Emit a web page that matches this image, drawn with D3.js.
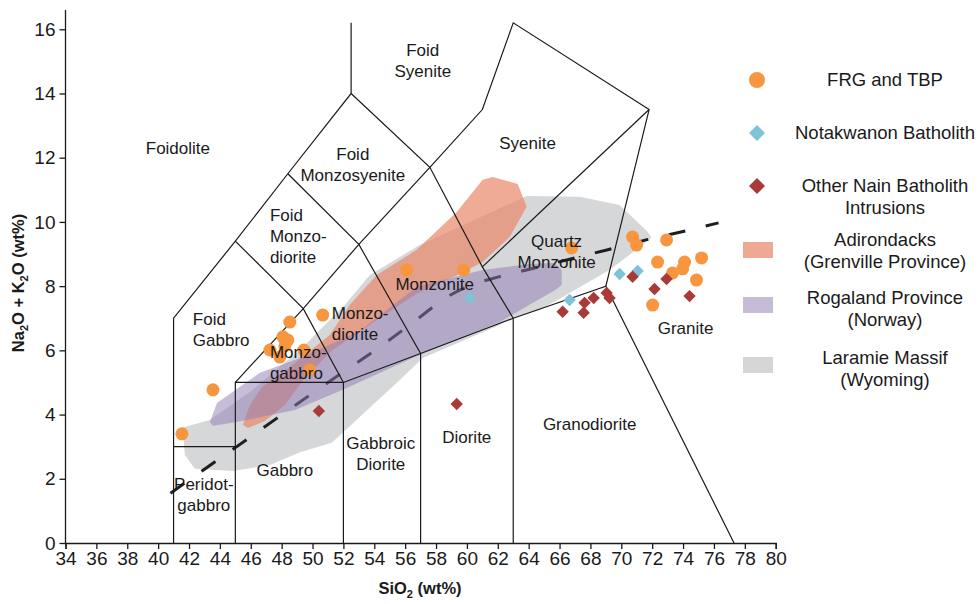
<!DOCTYPE html>
<html>
<head>
<meta charset="utf-8">
<script src="https://cdn.jsdelivr.net/npm/d3@7/dist/d3.min.js"></script>
<style>
  body { margin: 0; background: #fff; }
  svg text { font-family: "Liberation Sans", Arial, Helvetica, sans-serif; fill: #1a1a1a; }
</style>
</head>
<body>
<svg id="chart" width="979" height="604"></svg>
<script>
// ---- axes ----
const sio2Domain = [34, 80];
const alkaliDomain = [0, 16.6];
const xTickValues = d3.range(34, 81, 2);
const yTickValues = d3.range(0, 17, 2);

// ---- TAS classification boundaries (plutonic, Middlemost 1994) ----
const boundaryLines = [
  [[41, 0], [41, 7], [45, 9.4], [48.4, 11.5], [52.5, 14], [52.5, 16.2]],
  [[41, 3], [45, 3]],
  [[45, 0], [45, 5], [52, 5], [57, 5.9], [63, 7], [69, 8], [77.3, 0]],
  [[52, 0], [52, 5]],
  [[57, 0], [57, 5.9]],
  [[63, 0], [63, 7]],
  [[45, 5], [49.4, 7.3], [53, 9.3], [57.6, 11.7], [61, 13.5], [63, 16.2], [71.8, 13.5], [69, 8]],
  [[45, 9.4], [49.4, 7.3], [52, 5]],
  [[48.4, 11.5], [53, 9.3], [57, 5.9]],
  [[52.5, 14], [57.6, 11.7], [61, 8.6], [63, 7]],
  [[61, 8.6], [71.8, 13.5]]
];

// field names: first-line position in data units
const fieldLabels = [
  { lines: ["Foidolite"], at: [41.28, 12.31], anchor: "middle" },
  { lines: ["Foid", "Syenite"], at: [57.14, 15.36], anchor: "middle" },
  { lines: ["Foid", "Monzosyenite"], at: [52.61, 12.12], anchor: "middle" },
  { lines: ["Syenite"], at: [63.93, 12.46], anchor: "middle" },
  { lines: ["Foid", "Monzo-", "diorite"], at: [47.24, 10.22], anchor: "start" },
  { lines: ["Foid", "Gabbro"], at: [42.25, 6.98], anchor: "start" },
  { lines: ["Monzo-", "gabbro"], at: [47.24, 5.95], anchor: "start" },
  { lines: ["Monzo-", "diorite"], at: [51.25, 7.17], anchor: "start" },
  { lines: ["Monzonite"], at: [57.91, 8.07], anchor: "middle" },
  { lines: ["Quartz", "Monzonite"], at: [65.81, 9.41], anchor: "middle" },
  { lines: ["Granite"], at: [74.16, 6.70], anchor: "middle" },
  { lines: ["Granodiorite"], at: [67.95, 3.71], anchor: "middle" },
  { lines: ["Diorite"], at: [59.99, 3.30], anchor: "middle" },
  { lines: ["Gabbroic", "Diorite"], at: [54.42, 3.12], anchor: "middle" },
  { lines: ["Gabbro"], at: [48.21, 2.27], anchor: "middle" },
  { lines: ["Peridot-", "gabbro"], at: [42.96, 1.84], anchor: "middle" }
];

// alkaline / subalkaline divide
const alkalineDivide = [
  [40.8, 1.55], [43.0, 2.30], [45.0, 2.97], [47.0, 3.65], [49.0, 4.33], [51.0, 5.00],
  [53.0, 5.65], [55.0, 6.33], [57.0, 7.05], [58.5, 7.60], [60.0, 7.98], [62.0, 8.28],
  [64.0, 8.52], [67.0, 8.88], [69.0, 9.12], [71.6, 9.44], [74.0, 9.70], [76.3, 9.97]
];

// ---- comparison fields ----
const laramieField = [
  [41.6, 3.60], [43.35, 3.83], [45.94, 4.70], [49.18, 6.01], [52.09, 7.41], [53.71, 8.35],
  [56.94, 9.28], [60.18, 10.0], [63.87, 10.81], [67.3, 10.78], [69.89, 10.53], [71.7, 9.69],
  [71.96, 9.50], [69.24, 8.50], [66.65, 7.79], [64.71, 7.26], [62.96, 7.01], [62.12, 6.79],
  [57.14, 5.76], [55.65, 5.08], [51.25, 3.12], [49.18, 2.83], [47.24, 2.43], [44.84, 2.24],
  [42.38, 2.31], [41.73, 2.74]
];
const rogalandField = [
  [43.35, 3.77], [43.81, 4.36], [46.59, 5.30], [49.37, 5.79], [53.06, 6.60], [56.75, 7.98],
  [61.02, 8.50], [64.06, 8.69], [65.68, 8.72], [66.14, 8.50], [66.14, 8.04], [65.8, 7.90],
  [62.12, 6.88], [56.94, 5.86], [51.96, 4.77], [48.85, 4.14], [45.1, 3.77], [43.55, 3.65]
];
const adirondacksField = [
  [45.49, 3.68], [45.94, 4.30], [46.72, 4.86], [48.72, 5.55], [51.12, 6.48], [52.41, 7.41],
  [54.16, 8.35], [56.75, 9.13], [59.34, 10.31], [61.02, 11.31], [61.67, 11.40], [63.29, 11.18],
  [63.87, 10.47], [62.77, 9.53], [61.02, 8.75], [59.53, 8.38], [56.75, 7.76], [54.55, 7.07],
  [51.31, 6.01], [49.5, 5.14], [48.21, 4.30], [46.91, 3.80], [45.81, 3.58]
];

// ---- samples (SiO2, Na2O+K2O) ----
const frgTbp = [
  [41.54, 3.40], [43.55, 4.77], [48.53, 6.88], [48.08, 6.42], [48.40, 6.32], [48.21, 6.14],
  [47.24, 6.01], [47.88, 5.79], [49.44, 6.01], [49.82, 5.39], [50.66, 7.10], [56.10, 8.50],
  [59.79, 8.50], [66.78, 9.19], [70.73, 9.53], [70.99, 9.28], [72.93, 9.44], [72.35, 8.75],
  [74.10, 8.75], [73.97, 8.54], [75.20, 8.88], [73.32, 8.41], [74.87, 8.19], [72.03, 7.41]
];
const notakwanon = [[60.18, 7.63], [66.65, 7.57], [69.89, 8.38], [71.06, 8.47]];
const otherNain = [
  [50.41, 4.11], [59.34, 4.33], [66.20, 7.20], [67.56, 7.17], [67.62, 7.48], [68.21, 7.63],
  [69.05, 7.79], [69.24, 7.63], [70.73, 8.29], [72.15, 7.91], [72.93, 8.22], [74.42, 7.69]
];

const legendItems = [
  { kind: "circle", lines: ["FRG and TBP"] },
  { kind: "diamondBlue", lines: ["Notakwanon Batholith"] },
  { kind: "diamondRed", lines: ["Other Nain Batholith", "Intrusions"] },
  { kind: "rectOrange", lines: ["Adirondacks", "(Grenville Province)"] },
  { kind: "rectPurple", lines: ["Rogaland Province", "(Norway)"] },
  { kind: "rectGray", lines: ["Laramie Massif", "(Wyoming)"] }
];

// ---- drawing ----
const svg = d3.select("#chart");
const x = d3.scaleLinear().domain(sio2Domain).range([65.5, 775.7]);
const y = d3.scaleLinear().domain(alkaliDomain).range([543, 10]);

const colors = {
  frg: "#f7963f", blue: "#7fc4d6", red: "#a83a37",
  laramie: "#d6d7d8", rogaland: "#8f7cb6", adirondacks: "#e8876a"
};

const closed = d3.line().x(d => x(d[0])).y(d => y(d[1])).curve(d3.curveLinearClosed);
const open = d3.line().x(d => x(d[0])).y(d => y(d[1]));

// Laramie field at the bottom
svg.append("path").attr("d", closed(laramieField)).attr("fill", colors.laramie);

// alkaline divide
svg.append("path")
  .attr("d", d3.line().x(d => x(d[0])).y(d => y(d[1])).curve(d3.curveMonotoneX)(alkalineDivide))
  .attr("fill", "none").attr("stroke", "#1e1e1e").attr("stroke-width", 3)
  .attr("stroke-dasharray", "17,21");

// Adirondacks and Rogaland fields
svg.append("path").attr("d", closed(adirondacksField))
  .attr("fill", colors.adirondacks).attr("fill-opacity", 0.7);
svg.append("path").attr("d", closed(rogalandField))
  .attr("fill", colors.rogaland).attr("fill-opacity", 0.5);

// boundary lines
svg.append("g").selectAll("path").data(boundaryLines).join("path")
  .attr("d", open).attr("fill", "none").attr("stroke", "#1a1a1a").attr("stroke-width", 1.2);

// axes
const xAxis = d3.axisBottom(x).tickValues(xTickValues).tickSize(6).tickPadding(3).tickFormat(d3.format("d"));
const yAxis = d3.axisLeft(y).tickValues(yTickValues).tickSize(6).tickPadding(4).tickFormat(d3.format("d"));
const gx = svg.append("g").attr("transform", `translate(0,${y(0)})`).call(xAxis);
const gy = svg.append("g").attr("transform", `translate(${x(34)},0)`).call(yAxis);
[gx, gy].forEach(g => {
  g.select(".domain").attr("stroke", "#1a1a1a").attr("stroke-width", 1.3);
  g.selectAll(".tick line").attr("stroke", "#1a1a1a").attr("stroke-width", 1.3);
  g.selectAll(".tick text").attr("font-size", 19).attr("fill", "#1a1a1a")
    .attr("font-family", '"Liberation Sans", Arial, sans-serif');
});
gy.select(".domain").attr("d", `M0,${y(alkaliDomain[1])}V${y(0)}`);

// samples
const diamond = r => `M0,${-r}L${r},0L0,${r}L${-r},0Z`;
svg.append("g").selectAll("circle").data(frgTbp).join("circle")
  .attr("cx", d => x(d[0])).attr("cy", d => y(d[1])).attr("r", 6.5).attr("fill", colors.frg);
svg.append("g").selectAll("path").data(notakwanon).join("path")
  .attr("transform", d => `translate(${x(d[0])},${y(d[1])})`).attr("d", diamond(6.2)).attr("fill", colors.blue);
svg.append("g").selectAll("path").data(otherNain).join("path")
  .attr("transform", d => `translate(${x(d[0])},${y(d[1])})`).attr("d", diamond(6.2)).attr("fill", colors.red);

// field labels
const lab = svg.append("g").attr("font-size", 17);
fieldLabels.forEach(f => {
  const t = lab.append("text").attr("text-anchor", f.anchor)
    .attr("x", x(f.at[0])).attr("y", y(f.at[1])).attr("dy", "0.35em");
  f.lines.forEach((s, i) => {
    t.append("tspan").attr("x", x(f.at[0])).attr("dy", i === 0 ? "0.35em" : 21).text(s);
  });
});

// axis titles
const xt = svg.append("text").attr("x", 420).attr("y", 594).attr("text-anchor", "middle")
  .attr("font-size", 16.5).attr("font-weight", "bold");
xt.append("tspan").text("SiO");
xt.append("tspan").attr("font-size", 11).attr("dy", 4).text("2");
xt.append("tspan").attr("dy", -4).text(" (wt%)");

const yt = svg.append("text").attr("transform", "translate(24,283) rotate(-90)")
  .attr("text-anchor", "middle").attr("font-size", 16.5).attr("font-weight", "bold");
yt.append("tspan").text("Na");
yt.append("tspan").attr("font-size", 11).attr("dy", 4).text("2");
yt.append("tspan").attr("dy", -4).text("O + K");
yt.append("tspan").attr("font-size", 11).attr("dy", 4).text("2");
yt.append("tspan").attr("dy", -4).text("O (wt%)");

// legend
const legendRows = [80, 133, 186, 240, 298, 358];
const lg = svg.append("g");
legendItems.forEach((item, i) => {
  const cy = legendRows[i];
  const g = lg.append("g").attr("transform", `translate(757,${cy})`);
  if (item.kind === "circle") g.append("circle").attr("r", 8).attr("fill", colors.frg);
  if (item.kind === "diamondBlue") g.append("path").attr("d", diamond(8)).attr("fill", colors.blue);
  if (item.kind === "diamondRed") g.append("path").attr("d", diamond(8)).attr("fill", colors.red);
  if (item.kind === "rectOrange") g.append("rect").attr("x", -14).attr("y", 2).attr("width", 30).attr("height", 16).attr("fill", "#eda993");
  if (item.kind === "rectPurple") g.append("rect").attr("x", -14).attr("y", -1).attr("width", 30).attr("height", 16).attr("fill", "#c6bcd8");
  if (item.kind === "rectGray") g.append("rect").attr("x", -14).attr("y", -1).attr("width", 30).attr("height", 16).attr("fill", "#d5d5d6");
  const t = lg.append("text").attr("text-anchor", "middle").attr("font-size", 18.5);
  item.lines.forEach((s, j) => {
    t.append("tspan").attr("x", 885).attr("y", cy + j * 22).attr("dy", "0.35em").text(s);
  });
});
</script>
</body>
</html>
